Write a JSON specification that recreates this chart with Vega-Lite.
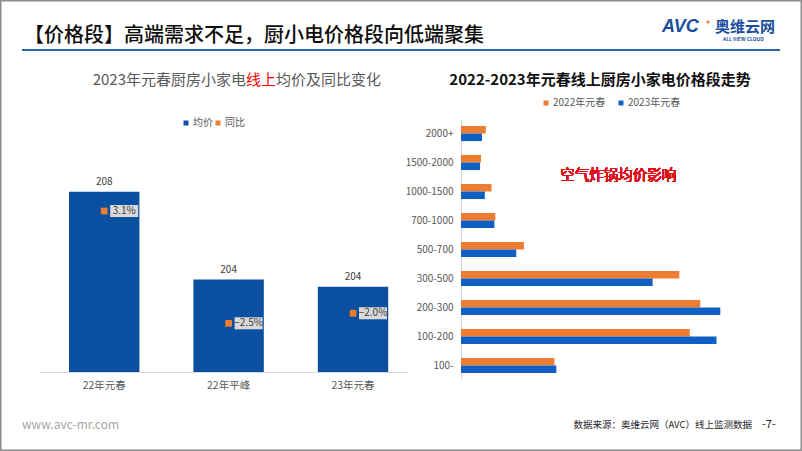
{
  "$schema": "https://vega.github.io/schema/vega-lite/v6.json",
  "width": 802,
  "height": 451,
  "autosize": {"type": "none"},
  "padding": 0,
  "background": "white",
  "config": {"font": "Noto Sans CJK SC", "view": {"stroke": "#8c8c8c", "strokeWidth": 3}},
  "datasets": {
    "left": [
      {"period": "22年元春", "price": 208.0, "yoy": 0.031},
      {"period": "22年平峰", "price": 204.3, "yoy": -0.025},
      {"period": "23年元春", "price": 204.0, "yoy": -0.020}
    ],
    "right": [
      {"band": "2000+", "year": "2022年元春", "share": 2.6},
      {"band": "2000+", "year": "2023年元春", "share": 2.2},
      {"band": "1500-2000", "year": "2022年元春", "share": 2.1},
      {"band": "1500-2000", "year": "2023年元春", "share": 2.0},
      {"band": "1000-1500", "year": "2022年元春", "share": 3.2},
      {"band": "1000-1500", "year": "2023年元春", "share": 2.5},
      {"band": "700-1000", "year": "2022年元春", "share": 3.6},
      {"band": "700-1000", "year": "2023年元春", "share": 3.5},
      {"band": "500-700", "year": "2022年元春", "share": 6.6},
      {"band": "500-700", "year": "2023年元春", "share": 5.8},
      {"band": "300-500", "year": "2022年元春", "share": 22.9},
      {"band": "300-500", "year": "2023年元春", "share": 20.1},
      {"band": "200-300", "year": "2022年元春", "share": 25.1},
      {"band": "200-300", "year": "2023年元春", "share": 27.2},
      {"band": "100-200", "year": "2022年元春", "share": 24.0},
      {"band": "100-200", "year": "2023年元春", "share": 26.8},
      {"band": "100-", "year": "2022年元春", "share": 9.8},
      {"band": "100-", "year": "2023年元春", "share": 10.0}
    ]
  },
  "layer": [
    {
      "data": {"name": "left"},
      "layer": [
        {
          "layer": [
            {
              "mark": {"type": "bar"},
              "encoding": {
                "x": {"field": "period", "type": "nominal", "sort": null,
                      "scale": {"type": "band", "range": [40, 407], "paddingInner": 0.434, "paddingOuter": 0.192, "align": 0.607},
                      "axis": {"title": null, "labelAngle": 0, "ticks": false, "domainColor": "#d9d9d9", "labelColor": "#595959", "labelFontSize": 10.5, "labelPadding": 8, "offset": -79}},
                "y": {"field": "price", "type": "quantitative", "scale": {"domain": [200.4, 211.07], "range": [372, 119], "zero": false, "nice": false}, "axis": null},
                "y2": {"datum": 200.4},
                "color": {"datum": "均价", "type": "nominal", "scale": {"range": ["#0a4fa0"]},
                          "legend": {"orient": "none", "legendX": 181, "legendY": 118, "direction": "horizontal", "title": null, "symbolType": "square", "symbolSize": 25, "labelFontSize": 10, "labelColor": "#595959", "labelOffset": 2, "padding": 0}}
              }
            },
            {
              "mark": {"type": "text", "dy": -10, "fontSize": 10, "color": "#404040", "baseline": "middle"},
              "encoding": {
                "x": {"field": "period", "type": "nominal", "sort": null},
                "y": {"field": "price", "type": "quantitative"},
                "text": {"field": "price", "type": "quantitative", "format": ".0f"}
              }
            }
          ]
        },
        {
          "layer": [
            {
              "mark": {"type": "point", "shape": "M-1,-0.43H1V0.43H-1Z", "size": 784, "filled": true, "opacity": 1, "color": "#d9d9d9", "xOffset": 20},
              "encoding": {
                "x": {"field": "period", "type": "nominal", "sort": null},
                "y": {"field": "yoy", "type": "quantitative", "scale": {"domain": [-0.0493, 0.0769], "range": [372, 119], "zero": false, "nice": false}, "axis": null}
              }
            },
            {
              "mark": {"type": "text", "xOffset": 20, "fontSize": 10, "color": "#404040", "baseline": "middle"},
              "encoding": {
                "x": {"field": "period", "type": "nominal", "sort": null},
                "y": {"field": "yoy", "type": "quantitative"},
                "text": {"field": "yoy", "type": "quantitative", "format": ".1%"}
              }
            },
            {
              "mark": {"type": "square", "size": 45, "filled": true, "opacity": 1},
              "encoding": {
                "x": {"field": "period", "type": "nominal", "sort": null},
                "y": {"field": "yoy", "type": "quantitative"},
                "color": {"datum": "同比", "type": "nominal", "scale": {"range": ["#ed7d31"]},
                          "legend": {"orient": "none", "legendX": 213, "legendY": 118, "direction": "horizontal", "title": null, "symbolType": "square", "symbolSize": 25, "labelFontSize": 10, "labelColor": "#595959", "labelOffset": 2, "padding": 0}}
              }
            }
          ]
        }
      ],
      "resolve": {"scale": {"y": "independent", "color": "independent"}}
    },
    {
      "data": {"name": "right"},
      "layer": [
        {
          "mark": {"type": "bar"},
          "encoding": {
            "y": {"field": "band", "type": "nominal",
                  "scale": {"type": "band", "domain": ["2000+", "1500-2000", "1000-1500", "700-1000", "500-700", "300-500", "200-300", "100-200", "100-"], "range": [119, 380], "paddingInner": 0.48, "paddingOuter": 0.24},
                  "axis": {"title": null, "ticks": false, "domainColor": "#d9d9d9", "labelColor": "#595959", "labelFontSize": 10, "labelPadding": 8, "offset": -461}},
            "x": {"field": "share", "type": "quantitative", "scale": {"domain": [0, 30], "range": [461, 747], "nice": false}, "axis": null},
            "yOffset": {"field": "year", "type": "nominal", "sort": ["2022年元春", "2023年元春"], "scale": {"paddingInner": 0, "paddingOuter": 0}},
            "color": {"field": "year", "type": "nominal",
                      "scale": {"domain": ["2022年元春", "2023年元春"], "range": ["#ed7d31", "#1060c4"]},
                      "legend": {"orient": "none", "legendX": 541, "legendY": 98, "direction": "horizontal", "title": null, "symbolType": "square", "symbolSize": 25, "labelFontSize": 10, "labelColor": "#595959", "labelOffset": 2, "columnPadding": 10, "padding": 0}}
          }
        },
        {
          "mark": {"type": "text", "text": "空气炸锅均价影响", "color": "#e0101a", "fontSize": 14.5, "dy": 13.3, "baseline": "middle"},
          "encoding": {"x": {"datum": 16.5, "type": "quantitative"}, "y": {"datum": "1500-2000", "type": "nominal"}}
        }
      ]
    },
    {
      "data": {"values": [{}]},
      "layer": [
        {"mark": {"type": "rule", "color": "#2c63ae", "strokeWidth": 2},
         "encoding": {"x": {"value": 22}, "x2": {"value": 780}, "y": {"value": 50}}},
        {"mark": {"type": "text", "text": "【价格段】高端需求不足，厨小电价格段向低端聚集", "align": "left", "baseline": "middle", "fontSize": 20, "fontWeight": 500, "color": "#0d0d0d"},
         "encoding": {"x": {"value": 24}, "y": {"value": 36}}},
        {"mark": {"type": "text", "text": "AVC", "align": "left", "baseline": "middle", "fontSize": 18, "fontWeight": "bold", "fontStyle": "italic", "font": "Liberation Sans", "color": "#1b4f9e"},
         "encoding": {"x": {"value": 662}, "y": {"value": 27}}},
        {"mark": {"type": "point", "shape": "circle", "size": 10, "filled": true, "opacity": 1, "color": "#ed7d31"},
         "encoding": {"x": {"value": 708}, "y": {"value": 22}}},
        {"mark": {"type": "text", "text": "奥维云网", "align": "left", "baseline": "middle", "fontSize": 15, "fontWeight": "bold", "color": "#1b4f9e"},
         "encoding": {"x": {"value": 715}, "y": {"value": 27}}},
        {"mark": {"type": "text", "text": "ALL VIEW CLOUD", "align": "left", "baseline": "middle", "fontSize": 5, "fontWeight": "bold", "color": "#1b4f9e"},
         "encoding": {"x": {"value": 723}, "y": {"value": 39}}},
        {"mark": {"type": "text", "text": "2023年元春厨房小家电", "align": "right", "baseline": "middle", "fontSize": 15, "color": "#595959"},
         "encoding": {"x": {"value": 246}, "y": {"value": 80}}},
        {"mark": {"type": "text", "text": "线上", "align": "left", "baseline": "middle", "fontSize": 15, "color": "#ff0000"},
         "encoding": {"x": {"value": 246}, "y": {"value": 80}}},
        {"mark": {"type": "text", "text": "均价及同比变化", "align": "left", "baseline": "middle", "fontSize": 15, "color": "#595959"},
         "encoding": {"x": {"value": 276}, "y": {"value": 80}}},
        {"mark": {"type": "text", "text": "2022-2023年元春线上厨房小家电价格段走势", "align": "center", "baseline": "middle", "fontSize": 15, "fontWeight": "bold", "color": "#111111"},
         "encoding": {"x": {"value": 600}, "y": {"value": 80}}},
        {"mark": {"type": "text", "text": "www.avc-mr.com", "align": "left", "baseline": "middle", "fontSize": 12, "color": "#a6a6a6"},
         "encoding": {"x": {"value": 22}, "y": {"value": 425}}},
        {"mark": {"type": "text", "text": "数据来源：奥维云网（AVC）线上监测数据", "align": "right", "baseline": "middle", "fontSize": 9.5, "color": "#262626"},
         "encoding": {"x": {"value": 752}, "y": {"value": 425}}},
        {"mark": {"type": "text", "text": "-7-", "align": "left", "baseline": "middle", "fontSize": 11, "color": "#262626"},
         "encoding": {"x": {"value": 762}, "y": {"value": 425}}}
      ]
    }
  ],
  "resolve": {"scale": {"x": "independent", "y": "independent", "color": "independent"}}
}
